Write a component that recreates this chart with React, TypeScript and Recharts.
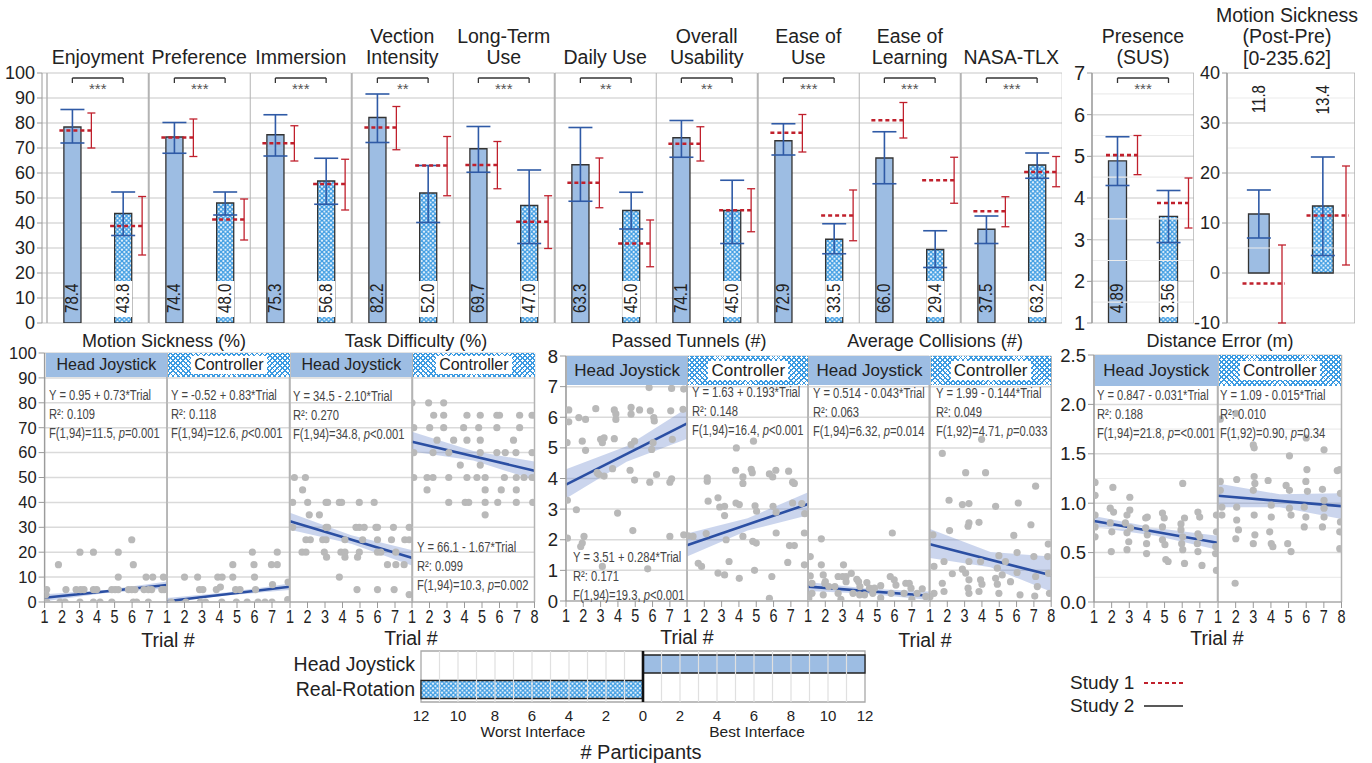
import React from 'react';
import {
  ComposedChart,
  BarChart,
  Bar,
  XAxis,
  YAxis,
  CartesianGrid,
  ErrorBar,
  Scatter,
  Area,
  ReferenceLine,
  ReferenceArea,
  LabelList,
  Cell,
} from 'recharts';

// ---------- top row: questionnaire scores (bars = Study 2, red = Study 1) ----------
const questionnaire = ['Enjoyment', 'Preference', 'Immersion', 'Vection\nIntensity', 'Long-Term\nUse', 'Daily Use', 'Overall\nUsability', 'Ease of\nUse', 'Ease of\nLearning', 'NASA-TLX'];
const questionnaireSig = ['***', '***', '***', '**', '***', '**', '**', '***', '***', '***'];
const headStudy2 = [78.4, 74.4, 75.3, 82.2, 69.7, 63.3, 74.1, 72.9, 66.0, 37.5];
const headStudy2Ci = [[72.0, 85.4], [67.9, 80.2], [66.8, 83.3], [72.2, 91.6], [60.3, 78.6], [48.7, 78.2], [66.3, 81.0], [67.2, 79.7], [55.7, 76.5], [31.8, 42.8]];
const ctrlStudy2 = [43.8, 48.0, 56.8, 52.0, 47.0, 45.0, 45.0, 33.5, 29.4, 63.2];
const ctrlStudy2Ci = [[35.0, 52.4], [43.2, 52.4], [47.5, 65.9], [40.2, 63.0], [31.8, 61.2], [37.6, 52.3], [31.8, 57.1], [27.7, 39.7], [22.2, 36.9], [57.9, 68.0]];
const headStudy1 = [77.0, 74.2, 71.9, 78.2, 63.2, 56.1, 71.7, 76.1, 81.1, 44.7];
const headStudy1Ci = [[70.0, 84.0], [66.6, 81.6], [64.8, 78.9], [69.3, 86.6], [53.7, 72.6], [46.1, 66.0], [64.8, 78.5], [68.4, 83.4], [74.0, 88.2], [38.5, 50.5]];
const ctrlStudy1 = [38.8, 41.4, 55.6, 63.0, 40.5, 31.8, 45.1, 43.0, 57.1, 60.4];
const ctrlStudy1Ci = [[27.2, 50.6], [33.2, 49.6], [45.2, 65.5], [50.9, 74.6], [29.8, 50.9], [22.5, 41.2], [36.5, 53.7], [32.9, 53.2], [47.9, 66.3], [54.5, 66.6]];

const presenceStudy2 = [4.89, 3.56];
const presenceStudy2Ci = [[4.30, 5.47], [2.93, 4.18]];
const presenceStudy1 = [5.03, 3.88];
const presenceStudy1Ci = [[4.56, 5.50], [3.28, 4.48]];

const sicknessStudy2 = [11.8, 13.4];
const sicknessStudy2Ci = [[7.0, 16.6], [3.5, 23.2]];
const sicknessStudy1 = [-2.1, 11.5];
const sicknessStudy1Ci = [[-10, 5.6], [1.6, 21.4]];

// ---------- middle row: per-trial measures ----------
const trialTicks7 = [1, 2, 3, 4, 5, 6, 7];
const trialTicks8 = [1, 2, 3, 4, 5, 6, 7, 8];
const bandTrials = [1, 4.5, 8];

const msHeadDots = [[1.12, 5], [1.79, 15], [3.02, 20], [3.79, 20], [5.21, 20], [5.98, 25], [6.07, 15], [5.21, 10], [6.8, 10], [7.18, 10], [7.79, 10], [2.22, 5], [2.8, 5], [3.06, 5], [3.25, 5], [3.79, 5], [3.98, 5], [4.84, 5], [5.03, 5], [5.21, 5], [5.79, 5], [5.98, 5], [6.17, 5], [6.68, 5], [6.93, 5], [7.12, 5], [7.7, 5], [7.83, 5], [1.08, 3], [1.12, 0], [1.88, 0], [2.17, 0], [3.02, 0], [3.79, 0], [4.17, 0], [4.84, 0], [6.07, 0], [6.26, 0], [6.93, 0]];
const msCtrlDots = [[2.0, 10], [2.75, 10], [2.86, 5], [3.05, 5], [3.9, 10], [4.15, 10], [3.82, 5], [4.05, 6], [4.76, 15], [4.76, 10], [4.92, 5], [5.17, 5], [5.88, 20], [5.97, 15], [6.0, 10], [6.06, 5], [6.97, 15], [7.3, 15], [7.3, 20], [7.03, 7], [7.92, 8], [7.9, 1], [1.25, 0], [2.08, 0], [2.9, 0], [3.2, 0], [4.13, 0], [4.96, 0], [5.58, 0], [6.2, 0], [6.6, 0], [7.0, 0]];
const tdHeadDots = [[1.25, 50], [1.88, 50], [1.72, 45], [1.15, 40], [2.01, 40], [3.06, 40], [3.15, 40], [3.82, 40], [3.95, 40], [4.96, 40], [5.81, 40], [2.1, 35], [2.68, 35], [1.15, 30], [3.06, 30], [3.15, 30], [4.77, 30], [4.96, 30], [5.24, 30], [5.91, 30], [6.0, 30], [6.91, 30], [7.81, 30], [1.91, 25], [2.16, 25], [2.87, 25], [3.06, 25], [4.14, 25], [5.15, 25], [6.0, 25], [6.8, 25], [7.56, 25], [7.81, 25], [1.69, 20], [1.91, 20], [2.96, 20], [3.91, 20], [4.14, 20], [4.96, 20], [6.0, 20], [6.19, 20], [7.05, 20], [3.09, 18], [4.14, 18], [4.86, 18], [6.57, 15], [7.05, 15], [7.52, 15], [3.82, 10], [4.83, 5], [6.0, 5], [6.95, 5], [7.81, 3]];
const tdCtrlDots = [[1.0, 80], [1.95, 80], [2.81, 80], [2.24, 75], [2.81, 75], [4.14, 75], [4.9, 75], [5.85, 75], [6.0, 75], [7.15, 75], [7.86, 75], [1.1, 70], [2.01, 70], [2.81, 70], [3.95, 70], [4.81, 70], [5.85, 70], [7.15, 70], [2.43, 65], [3.38, 65], [4.14, 65], [4.9, 65], [6.8, 65], [1.1, 60], [2.2, 60], [3.1, 60], [4.9, 60], [5.85, 60], [6.33, 60], [6.94, 60], [7.86, 60], [3.76, 55], [4.9, 55], [1.1, 50], [1.86, 50], [2.2, 50], [3.1, 50], [4.14, 50], [4.71, 50], [5.18, 50], [6.28, 50], [6.96, 50], [7.4, 50], [7.86, 50], [1.86, 45], [5.18, 45], [6.1, 45], [6.96, 45], [3.1, 40], [4.04, 40], [4.24, 40], [5.18, 40], [5.9, 40], [6.96, 40], [7.9, 40], [5.18, 35]];
const ptHeadDots = [[1.06, 5.17], [1.16, 6.24], [1.16, 5.85], [1.74, 5.99], [2.13, 5.93], [2.72, 6.28], [3.79, 6.24], [3.88, 5.93], [3.88, 6.11], [4.76, 6.32], [4.76, 6.1], [5.25, 6.24], [5.87, 6.21], [6.07, 5.99], [6.1, 5.88], [7.05, 6.21], [7.1, 6.94], [5.8, 6.97], [7.8, 6.92], [7.76, 6.26], [1.94, 5.22], [3.0, 5.28], [3.2, 5.33], [3.1, 5.17], [3.79, 5.3], [4.76, 5.11], [4.96, 5.22], [6.03, 5.17], [5.95, 4.95], [7.14, 5.28], [2.13, 4.92], [2.8, 4.19], [2.9, 4.13], [3.2, 4.08], [3.69, 4.32], [4.7, 4.27], [4.96, 3.95], [5.84, 3.88], [6.23, 4.13], [7.1, 3.99], [7.0, 3.88], [1.08, 3.29], [1.6, 2.98], [3.98, 2.87], [4.86, 2.3], [7.8, 2.16], [7.0, 2.11], [2.04, 2.11], [1.94, 1.89], [1.85, 1.78], [1.08, 2.05], [3.1, 1.13], [5.72, 1.05]];
const ptCtrlDots = [[4.84, 5.22], [3.85, 5.0], [2.17, 4.02], [2.17, 3.91], [3.81, 4.27], [4.71, 4.3], [4.77, 4.19], [4.23, 4.05], [4.23, 3.84], [5.76, 4.15], [5.95, 4.05], [6.13, 4.27], [6.87, 4.24], [7.1, 3.88], [7.2, 3.84], [2.22, 3.26], [2.89, 3.07], [3.17, 3.09], [2.79, 3.37], [3.83, 3.2], [4.02, 3.15], [3.17, 2.79], [4.93, 3.11], [5.02, 2.93], [5.97, 3.09], [6.15, 2.9], [7.1, 3.2], [7.63, 3.18], [7.8, 2.85], [1.06, 2.13], [1.35, 2.11], [2.11, 2.2], [3.26, 2.0], [4.23, 2.11], [4.8, 1.95], [5.0, 1.89], [6.15, 2.22], [6.92, 1.81], [7.2, 1.81], [7.78, 2.22], [1.65, 1.23], [1.84, 1.13], [3.43, 1.29], [2.79, 0.91], [3.17, 0.85], [6.82, 1.26], [7.78, 1.18], [4.02, 0.74], [5.76, 0.09], [4.9, 1.0], [5.9, 0.8]];
const acHeadDots = [[1.13, 1.45], [1.77, 2.03], [1.77, 1.18], [3.05, 1.18], [5.87, 2.22], [1.13, 0.82], [1.23, 0.58], [1.88, 0.85], [1.97, 0.58], [2.74, 0.8], [3.0, 0.8], [3.2, 0.8], [2.0, 0.63], [2.2, 0.47], [2.55, 0.47], [2.74, 0.25], [3.2, 0.63], [3.82, 0.71], [3.92, 0.63], [4.0, 0.47], [4.55, 0.42], [4.84, 0.42], [4.74, 0.25], [5.75, 0.8], [5.98, 0.69], [6.08, 0.52], [6.65, 0.58], [6.85, 0.58], [6.95, 0.42], [5.8, 0.25], [6.55, 0.25], [7.3, 0.25], [7.6, 0.4], [1.23, 0.25], [1.88, 0.2], [3.6, 0.25], [3.98, 0.2], [4.27, 0.2], [1.05, 0.1], [2.9, 0.05], [5.2, 0.1], [7.0, 0.05], [7.8, 0.15], [5.2, 0.5], [4.4, 0.6], [3.5, 0.9]];
const acCtrlDots = [[3.98, 5.28], [1.71, 4.82], [3.06, 4.19], [4.21, 4.19], [7.1, 3.75], [2.1, 3.29], [2.87, 3.15], [3.25, 3.18], [4.79, 3.09], [6.1, 3.2], [3.25, 2.55], [3.2, 2.44], [3.83, 2.57], [2.13, 2.3], [6.83, 2.49], [1.17, 2.16], [5.84, 2.14], [7.83, 1.86], [1.23, 1.13], [1.81, 1.29], [2.87, 1.04], [3.25, 1.29], [3.92, 1.29], [4.98, 1.48], [4.89, 1.07], [6.03, 1.58], [7.0, 1.45], [7.8, 1.45], [2.29, 0.89], [3.06, 0.91], [3.25, 0.69], [3.92, 0.69], [4.0, 0.55], [4.79, 0.74], [4.89, 0.55], [5.17, 0.85], [5.65, 0.63], [6.03, 0.93], [7.1, 0.8], [7.2, 0.47], [1.71, 0.58], [1.81, 0.31], [1.23, 0.25], [1.0, 0.14], [3.2, 0.42], [3.25, 0.25], [3.83, 0.31], [4.98, 0.25], [6.2, 0.2], [7.05, 0.16], [7.9, 0.25], [7.85, 0.9], [5.36, 1.29]];
const deHeadDots = [[1.06, 1.21], [1.06, 1.08], [2.07, 1.16], [3.03, 1.06], [6.03, 1.2], [1.06, 0.88], [1.06, 0.76], [1.06, 0.66], [1.92, 0.95], [2.11, 0.91], [1.92, 0.8], [2.01, 0.71], [1.98, 0.51], [2.87, 0.88], [3.03, 0.93], [2.78, 0.8], [3.07, 0.75], [2.87, 0.7], [2.97, 0.61], [2.87, 0.53], [3.93, 0.85], [4.02, 0.86], [3.93, 0.75], [4.02, 0.68], [3.98, 0.59], [3.98, 0.49], [4.88, 0.9], [4.98, 0.85], [4.88, 0.76], [4.88, 0.63], [5.02, 0.58], [5.07, 0.43], [5.2, 0.41], [5.93, 0.79], [6.13, 0.85], [5.93, 0.73], [6.03, 0.66], [5.97, 0.59], [6.03, 0.53], [6.13, 0.39], [6.89, 0.91], [6.99, 0.86], [6.89, 0.69], [6.99, 0.66], [6.86, 0.59], [6.89, 0.51], [7.12, 0.37], [7.94, 0.88], [7.94, 0.71], [7.9, 0.56], [7.89, 0.49], [7.94, 0.32]];
const deCtrlDots = [[1.13, 1.85], [2.1, 2.28], [2.01, 1.91], [3.0, 1.59], [3.05, 1.56], [5.05, 1.48], [7.01, 1.54], [6.04, 1.34], [7.76, 1.33], [6.0, 1.66], [1.13, 1.22], [1.13, 1.13], [2.06, 1.24], [3.05, 1.27], [3.09, 1.2], [3.0, 1.13], [3.84, 1.23], [4.86, 1.18], [5.05, 1.13], [5.98, 1.22], [6.07, 1.12], [6.92, 1.14], [7.9, 1.34], [1.22, 0.88], [1.22, 0.96], [2.06, 0.96], [2.06, 0.83], [2.16, 0.73], [2.01, 0.64], [3.05, 0.88], [3.09, 0.68], [3.0, 0.59], [4.02, 0.98], [4.02, 0.86], [3.93, 0.71], [4.02, 0.59], [4.11, 0.56], [5.05, 0.95], [5.14, 0.88], [4.95, 0.59], [5.14, 0.51], [5.89, 0.96], [5.98, 0.86], [5.89, 0.76], [7.01, 1.03], [7.01, 0.95], [7.01, 0.86], [6.92, 0.76], [7.94, 1.1], [7.94, 0.81], [7.9, 0.71], [7.9, 0.54], [1.97, 0.19]];

// fitted line at trial 1 and trial 8, confidence band at bandTrials
const msHeadFit = [1.7, 6.8];
const msCtrlFit = [0.3, 6.1];
const tdHeadFit = [32.4, 17.7];
const tdCtrlFit = [64.4, 52.7];
const ptHeadFit = [3.8, 5.8];
const ptCtrlFit = [1.82, 3.17];
const acHeadFit = [0.47, 0.17];
const acCtrlFit = [1.85, 0.84];
const deHeadFit = [0.82, 0.6];
const deCtrlFit = [1.075, 0.97];

const msHeadBand = [[0.3, 3.1], [3.6, 4.8], [5.4, 8.2]];
const msCtrlBand = [[0, 1.6], [2.7, 3.9], [4.8, 7.4]];
const tdHeadBand = [[29, 35.8], [23.4, 26.8], [14.6, 20.8]];
const tdCtrlBand = [[60.4, 68.4], [56.8, 60.6], [49, 56.4]];
const ptHeadBand = [[3.35, 4.3], [4.55, 5.05], [5.3, 6.3]];
const ptCtrlBand = [[1.45, 2.2], [2.3, 2.7], [2.8, 3.55]];
const acHeadBand = [[0.33, 0.62], [0.24, 0.4], [0.03, 0.31]];
const acCtrlBand = [[1.4, 2.35], [1.1, 1.6], [0.3, 1.45]];
const deHeadBand = [[0.76, 0.87], [0.67, 0.75], [0.53, 0.67]];
const deCtrlBand = [[0.96, 1.2], [0.96, 1.09], [0.84, 1.1]];

const msHeadStats = ['Y = 0.95 + 0.73*Trial', 'R²: 0.109', 'F(1,94)=11.5, ', '=0.001'];
const msCtrlStats = ['Y = -0.52 + 0.83*Trial', 'R²: 0.118', 'F(1,94)=12.6, ', '<0.001'];
const tdHeadStats = ['Y = 34.5 - 2.10*Trial', 'R²: 0.270', 'F(1,94)=34.8, ', '<0.001'];
const tdCtrlStats = ['Y = 66.1 - 1.67*Trial', 'R²: 0.099', 'F(1,94)=10.3, ', '=0.002'];
const ptHeadStats = ['Y = 3.51 + 0.284*Trial', 'R²: 0.171', 'F(1,94)=19.3, ', '<0.001'];
const ptCtrlStats = ['Y = 1.63 + 0.193*Trial', 'R²: 0.148', 'F(1,94)=16.4, ', '<0.001'];
const acHeadStats = ['Y = 0.514 - 0.043*Trial', 'R²: 0.063', 'F(1,94)=6.32, ', '=0.014'];
const acCtrlStats = ['Y = 1.99 - 0.144*Trial', 'R²: 0.049', 'F(1,92)=4.71, ', '=0.033'];
const deHeadStats = ['Y = 0.847 - 0.031*Trial', 'R²: 0.188', 'F(1,94)=21.8, ', '=<0.001'];
const deCtrlStats = ['Y = 1.09 - 0.015*Trial', 'R²: 0.010', 'F(1,92)=0.90, ', '=0.34'];

// ---------- bottom: best / worst interface votes ----------
const voteInterfaces = ['Head Joystick', 'Real-Rotation'];
const voteBest = [12, 0];
const voteWorst = [0, 12];
const voteTicks = [-12, -10, -8, -6, -4, -2, 0, 2, 4, 6, 8, 10, 12];
const voteGrid = [-11, -10, -9, -8, -7, -6, -5, -4, -3, -2, -1, 1, 2, 3, 4, 5, 6, 7, 8, 9, 10, 11];

// ---------- style ----------
const INK = '#222';
const SOLID = '#9dbde3';
const HATCH = '#3c9be2';
const BLUE = '#2f5aa6';
const RED = '#c0202c';
const GRID = '#dadada';
const FRAME = '#b3b3b3';
const FIT = '#2b4fa3';
const BAND = 'rgba(96,128,200,0.33)';
const DOT = '#b9b9b9';
const SANS = "'Liberation Sans', Arial, sans-serif";
const hatchCss = `repeating-linear-gradient(45deg, ${HATCH} 0 1.3px, transparent 1.3px 3.6px), repeating-linear-gradient(-45deg, ${HATCH} 0 1.3px, transparent 1.3px 3.6px)`;

const TOP_Y = 63; // chart box top, plot starts 10px lower
const TOP_H = 250;
const SIDE = 8; // spare room so edge tick labels are not clipped

function valueLabel(digits: number, atTop: boolean) {
  return (p: any) => {
    const x = Number(p.x), y = Number(p.y), w = Number(p.width), h = Number(p.height);
    const cx = x + w / 2;
    const txt = Number(p.value).toFixed(digits);
    if (atTop) {
      return (
        <text transform={`translate(${cx},22) rotate(-90) scale(0.84,1)`} textAnchor="end" dominantBaseline="central" fontSize={18} fontFamily={SANS} fill={INK}>
          {txt}
        </text>
      );
    }
    const base = y + h - 10;
    return (
      <g>
        {p.index === 1 && <rect x={cx - 9} y={base - 32} width={18} height={36} fill="#fff" />}
        <text transform={`translate(${cx},${base}) rotate(-90) scale(0.84,1)`} textAnchor="start" dominantBaseline="central" fontSize={18} fontFamily={SANS} fill={INK}>
          {txt}
        </text>
      </g>
    );
  };
}

function NarrowTick(p: any) {
  return (
    <g transform={`translate(${p.x},${p.y})`}>
      <text transform="scale(0.78,1)" textAnchor="middle" dy="0.78em" fontSize={18.5} fontFamily={SANS} fill={INK}>
        {p.payload.value}
      </text>
    </g>
  );
}

type BarPanelProps = {
  left: number;
  width: number;
  means: number[];
  cis: number[][];
  s1: number[];
  s1ci: number[][];
  domain: [number, number];
  ticks: number[];
  minor?: number[];
  axisW?: number;
  pad?: number;
  sig?: string;
  barW: number;
  redOff: number;
  digits: number;
  labelTop?: boolean;
  tickFont?: number;
};

function BarPanel({ left, width, means, cis, s1, s1ci, domain, ticks, minor = [], axisW = 0, pad = 0, sig, barW, redOff, digits, labelTop = false, tickFont = 18 }: BarPanelProps) {
  const bars = means.map((m, i) => ({ x: i + 0.5, v: m, err: [m - cis[i][0], cis[i][1] - m] }));
  const shift = (redOff * 2) / width;
  const red = s1.map((m, i) => ({ x: i + 0.5 + shift, v: m, err: [m - s1ci[i][0], s1ci[i][1] - m] }));
  const span = domain[1] - domain[0];
  const yA = domain[1] - 0.02 * span;
  const yB = domain[1] - 0.04 * span;
  const back = redOff + barW / 2;

  return (
    <div style={{ position: 'absolute', left: left - axisW - pad, top: TOP_Y }}>
      <ComposedChart width={axisW + pad + width} height={TOP_H + 20} data={bars} margin={{ top: 10, right: 0, bottom: 10, left: 0 }}>
        <CartesianGrid vertical={false} stroke={GRID} strokeWidth={1.5} />
        {minor.map((m) => (
          <ReferenceLine key={`m${m}`} y={m} stroke="#ececec" strokeWidth={1.2} />
        ))}
        <XAxis type="number" dataKey="x" domain={[0, 2]} hide padding={{ left: pad, right: 0 }} allowDataOverflow />
        <YAxis
          type="number"
          domain={domain}
          ticks={ticks}
          allowDataOverflow
          hide={!axisW}
          width={axisW}
          interval={0}
          tickSize={5}
          tickMargin={2}
          stroke="#9a9a9a"
          tick={{ fill: INK, fontSize: tickFont, fontFamily: SANS }}
        />
        <ReferenceLine x={0} stroke={FRAME} strokeWidth={1.5} />
        <ReferenceLine x={2} stroke={FRAME} strokeWidth={1.5} />
        <Bar dataKey="v" barSize={barW} stroke="#333" strokeWidth={1.3} isAnimationActive={false}>
          {bars.map((b, i) => (
            <Cell key={i} fill={i === 1 ? 'url(#hatch)' : SOLID} />
          ))}
          <ErrorBar dataKey="err" width={12} stroke={BLUE} strokeWidth={1.6} />
          <LabelList dataKey="v" content={valueLabel(digits, labelTop)} />
        </Bar>
        <Scatter
          data={red}
          dataKey="v"
          isAnimationActive={false}
          shape={(p: any) => (
            <line x1={p.cx - back} x2={p.cx + 3} y1={p.cy} y2={p.cy} stroke={RED} strokeWidth={2.6} strokeDasharray="4 3" />
          )}
        >
          <ErrorBar dataKey="err" direction="y" width={4} stroke={RED} strokeWidth={1.3} />
        </Scatter>
        {sig
          ? [
              <ReferenceLine
                key="s0"
                segment={[{ x: 0.5, y: yA }, { x: 1.5, y: yA }]}
                stroke="#333"
                strokeWidth={1.3}
                label={{ value: sig, position: 'bottom', offset: 5, fill: '#555', fontSize: 15, fontFamily: SANS }}
              />,
              <ReferenceLine key="s1" segment={[{ x: 0.5, y: yA }, { x: 0.5, y: yB }]} stroke="#333" strokeWidth={1.3} />,
              <ReferenceLine key="s2" segment={[{ x: 1.5, y: yA }, { x: 1.5, y: yB }]} stroke="#333" strokeWidth={1.3} />,
            ]
          : null}
      </ComposedChart>
    </div>
  );
}

type Group = {
  plotTop: number;
  plotH: number;
  left0: number;
  panelW: number;
  domain: [number, number];
  ticks: number[];
  minor: number[];
  hdrH: number;
  hdrFont: number;
  axisW: number;
  tickFont: number;
  fmt: (v: number) => string;
};

const groupA: Group = { plotTop: 353, plotH: 249, left0: 44.6, panelW: 122.5, domain: [0, 100], ticks: [0, 10, 20, 30, 40, 50, 60, 70, 80, 90, 100], minor: [], hdrH: 24, hdrFont: 16, axisW: 44.6, tickFont: 16.5, fmt: (v) => String(v) };
const groupB: Group = { plotTop: 356, plotH: 245, left0: 566, panelW: 121.2, domain: [0, 8], ticks: [0, 1, 2, 3, 4, 5, 6, 7, 8], minor: [], hdrH: 29, hdrFont: 17, axisW: 36, tickFont: 18.5, fmt: (v) => String(v) };
const groupC: Group = { plotTop: 355, plotH: 247, left0: 1094, panelW: 123.5, domain: [0, 2.5], ticks: [0, 0.5, 1, 1.5, 2, 2.5], minor: [0.25, 0.75, 1.25, 1.75, 2.25], hdrH: 31, hdrFont: 17, axisW: 40, tickFont: 18.5, fmt: (v) => v.toFixed(1) };

type Facet = {
  g: Group;
  idx: number;
  last: boolean;
  header: string;
  dots: number[][];
  fit: number[];
  band: number[][];
  stats: string[];
  statX: number;
  statY: number;
};

const facets: Facet[] = [
  { g: groupA, idx: 0, last: false, header: 'Head Joystick', dots: msHeadDots, fit: msHeadFit, band: msHeadBand, stats: msHeadStats, statX: 49, statY: 399 },
  { g: groupA, idx: 1, last: false, header: 'Controller', dots: msCtrlDots, fit: msCtrlFit, band: msCtrlBand, stats: msCtrlStats, statX: 171, statY: 399 },
  { g: groupA, idx: 2, last: false, header: 'Head Joystick', dots: tdHeadDots, fit: tdHeadFit, band: tdHeadBand, stats: tdHeadStats, statX: 293, statY: 400 },
  { g: groupA, idx: 3, last: true, header: 'Controller', dots: tdCtrlDots, fit: tdCtrlFit, band: tdCtrlBand, stats: tdCtrlStats, statX: 417, statY: 551 },
  { g: groupB, idx: 0, last: false, header: 'Head Joystick', dots: ptHeadDots, fit: ptHeadFit, band: ptHeadBand, stats: ptHeadStats, statX: 573, statY: 561 },
  { g: groupB, idx: 1, last: false, header: 'Controller', dots: ptCtrlDots, fit: ptCtrlFit, band: ptCtrlBand, stats: ptCtrlStats, statX: 692, statY: 396 },
  { g: groupB, idx: 2, last: false, header: 'Head Joystick', dots: acHeadDots, fit: acHeadFit, band: acHeadBand, stats: acHeadStats, statX: 813, statY: 397 },
  { g: groupB, idx: 3, last: true, header: 'Controller', dots: acCtrlDots, fit: acCtrlFit, band: acCtrlBand, stats: acCtrlStats, statX: 936, statY: 397 },
  { g: groupC, idx: 0, last: false, header: 'Head Joystick', dots: deHeadDots, fit: deHeadFit, band: deHeadBand, stats: deHeadStats, statX: 1097, statY: 399 },
  { g: groupC, idx: 1, last: true, header: 'Controller', dots: deCtrlDots, fit: deCtrlFit, band: deCtrlBand, stats: deCtrlStats, statX: 1220, statY: 399 },
];

function TrialPanel({ f }: { f: Facet }) {
  const { g, idx } = f;
  const axisW = idx === 0 ? g.axisW : 0;
  const left = g.left0 + idx * g.panelW;
  const bandData = bandTrials.map((t, i) => ({ t, band: f.band[i] }));
  const pts = f.dots.map(([t, v]) => ({ t, v }));
  const padL = idx === 0 ? 0 : SIDE;
  return (
    <div style={{ position: 'absolute', left: left - axisW - padL, top: g.plotTop - 10 }}>
      <ComposedChart width={axisW + padL + g.panelW + SIDE} height={g.plotH + 10 + 32} data={bandData} margin={{ top: 10, right: SIDE, bottom: 0, left: padL }}>
        <CartesianGrid vertical={false} stroke={GRID} strokeWidth={1.5} />
        {g.minor.map((m) => (
          <ReferenceLine key={`m${m}`} y={m} stroke="#ececec" strokeWidth={1.2} />
        ))}
        <XAxis
          type="number"
          dataKey="t"
          domain={[1, 8]}
          ticks={f.last ? trialTicks8 : trialTicks7}
          interval={0}
          height={32}
          tickSize={6}
          tickMargin={1}
          stroke="#9a9a9a"
          allowDataOverflow
          tick={<NarrowTick />}
        />
        <YAxis
          type="number"
          domain={g.domain}
          ticks={g.ticks}
          interval={0}
          allowDataOverflow
          hide={!axisW}
          width={axisW}
          tickSize={6}
          tickMargin={2}
          stroke="#9a9a9a"
          tickFormatter={g.fmt}
          tick={{ fill: INK, fontSize: g.tickFont, fontFamily: SANS }}
        />
        <Scatter data={pts} dataKey="v" isAnimationActive={false} shape={(p: any) => <circle cx={p.cx} cy={p.cy} r={3.6} fill={DOT} />} />
        <Area dataKey="band" type="linear" fill={BAND} fillOpacity={1} stroke="none" isAnimationActive={false} dot={false} activeDot={false} />
        <ReferenceLine segment={[{ x: 1, y: f.fit[0] }, { x: 8, y: f.fit[1] }]} stroke={FIT} strokeWidth={2.6} />
        <ReferenceLine x={1} stroke={FRAME} strokeWidth={1.5} />
        <ReferenceLine x={8} stroke={FRAME} strokeWidth={1.5} />
      </ComposedChart>
    </div>
  );
}

function Header({ f }: { f: Facet }) {
  const { g, idx } = f;
  const hatch = f.header === 'Controller';
  return (
    <div
      style={{
        position: 'absolute',
        left: g.left0 + idx * g.panelW + 1,
        top: g.plotTop,
        width: g.panelW - 1,
        height: g.hdrH,
        backgroundColor: hatch ? '#fff' : SOLID,
        backgroundImage: hatch ? hatchCss : 'none',
        display: 'flex',
        alignItems: 'center',
        justifyContent: 'center',
        fontSize: g.hdrFont,
      }}
    >
      <span style={{ background: hatch ? '#fff' : 'transparent', padding: hatch ? '0 3px' : 0, lineHeight: `${g.hdrFont + 2}px` }}>{f.header}</span>
    </div>
  );
}

function Stats({ f }: { f: Facet }) {
  const style: React.CSSProperties = {
    position: 'absolute',
    left: f.statX,
    fontSize: 14,
    color: '#454545',
    whiteSpace: 'pre',
    lineHeight: '14px',
    transform: 'scaleX(0.8)',
    transformOrigin: '0 0',
  };
  return (
    <>
      <div style={{ ...style, top: f.statY - 11 }}>{f.stats[0]}</div>
      <div style={{ ...style, top: f.statY - 11 + 19 }}>{f.stats[1]}</div>
      <div style={{ ...style, top: f.statY - 11 + 38 }}>
        {f.stats[2]}
        <i>p</i>
        {f.stats[3]}
      </div>
    </>
  );
}

function Title({ text, cx, bottom, size = 19.5, lh = 21 }: { text: string; cx: number; bottom: number; size?: number; lh?: number }) {
  const lines = text.split('\n').length;
  return (
    <div
      style={{
        position: 'absolute',
        left: cx,
        top: bottom - lines * lh,
        transform: 'translateX(-50%)',
        whiteSpace: 'pre',
        textAlign: 'center',
        fontSize: size,
        lineHeight: `${lh}px`,
      }}
    >
      {text}
    </div>
  );
}

const TOP_LEFT = 47;
const TOP_W = 101.5;

export default function App() {
  const voteRows = voteInterfaces.map((name, i) => ({ name, best: voteBest[i], worst: -voteWorst[i] }));
  const abs = (v: number) => String(Math.abs(v));

  return (
    <div style={{ position: 'absolute', left: 0, top: 0, width: 1372, height: 763, background: '#fff', fontFamily: SANS, color: INK, overflow: 'hidden' }}>
      <svg width={0} height={0} style={{ position: 'absolute' }}>
        <defs>
          <pattern id="hatch" width={4.5} height={4.5} patternUnits="userSpaceOnUse">
            <rect width={4.5} height={4.5} fill="#fff" />
            <path d="M0,0L4.5,4.5M4.5,0L0,4.5" stroke={HATCH} strokeWidth={1.4} />
          </pattern>
        </defs>
      </svg>

      {/* top row titles */}
      {questionnaire.map((q, i) => (
        <Title key={q} text={q} cx={TOP_LEFT + TOP_W * (i + 0.5)} bottom={68} />
      ))}
      <Title text={'Presence\n(SUS)'} cx={1143} bottom={68} />
      <Title text={'Motion Sickness\n(Post-Pre)\n[0-235.62]'} cx={1287} bottom={69} lh={21.5} />

      {/* top row bar panels */}
      {questionnaire.map((q, i) => (
        <BarPanel
          key={q}
          left={TOP_LEFT + TOP_W * i}
          width={TOP_W}
          means={[headStudy2[i], ctrlStudy2[i]]}
          cis={[headStudy2Ci[i], ctrlStudy2Ci[i]]}
          s1={[headStudy1[i], ctrlStudy1[i]]}
          s1ci={[headStudy1Ci[i], ctrlStudy1Ci[i]]}
          domain={[0, 100]}
          ticks={[0, 10, 20, 30, 40, 50, 60, 70, 80, 90, 100]}
          axisW={i === 0 ? 37 : 0}
          pad={i === 0 ? 5 : 0}
          sig={questionnaireSig[i]}
          barW={26}
          redOff={19}
          digits={1}
        />
      ))}
      <BarPanel
        left={1092}
        width={102}
        means={presenceStudy2}
        cis={presenceStudy2Ci}
        s1={presenceStudy1}
        s1ci={presenceStudy1Ci}
        domain={[1, 7]}
        ticks={[1, 2, 3, 4, 5, 6, 7]}
        minor={[1.5, 2.5, 3.5, 4.5, 5.5, 6.5]}
        axisW={30}
        sig="***"
        barW={23}
        redOff={20}
        digits={2}
        tickFont={20}
      />
      <BarPanel
        left={1227}
        width={128}
        means={sicknessStudy2}
        cis={sicknessStudy2Ci}
        s1={sicknessStudy1}
        s1ci={sicknessStudy1Ci}
        domain={[-10, 40]}
        ticks={[-10, 0, 10, 20, 30, 40]}
        minor={[-5, 5, 15, 25, 35]}
        axisW={34}
        barW={33}
        redOff={23}
        digits={1}
        labelTop
      />

      {/* middle row titles */}
      <Title text="Motion Sickness (%)" cx={164} bottom={352} size={18} />
      <Title text="Task Difficulty (%)" cx={416} bottom={352} size={18} />
      <Title text="Passed Tunnels (#)" cx={689} bottom={352} size={18} />
      <Title text="Average Collisions (#)" cx={935} bottom={352} size={18} />
      <Title text="Distance Error (m)" cx={1220} bottom={352} size={18} />

      {facets.map((f, i) => (
        <TrialPanel key={`p${i}`} f={f} />
      ))}
      {facets.map((f, i) => (
        <Header key={`h${i}`} f={f} />
      ))}
      {facets.map((f, i) => (
        <Stats key={`s${i}`} f={f} />
      ))}

      <Title text="Trial #" cx={168} bottom={649} size={19.5} lh={18} />
      <Title text="Trial #" cx={411} bottom={647} size={19.5} lh={18} />
      <Title text="Trial #" cx={687} bottom={646} size={19.5} lh={18} />
      <Title text="Trial #" cx={925} bottom={649} size={19.5} lh={18} />
      <Title text="Trial #" cx={1217} bottom={647} size={19.5} lh={18} />

      {/* bottom: best / worst interface */}
      <div style={{ position: 'absolute', left: 280, top: 641 }}>
        <BarChart layout="vertical" width={595} height={87} data={voteRows} margin={{ top: 10, right: 10, bottom: 0, left: 0 }} barSize={18} stackOffset="sign">
          {voteGrid.map((v) => (
            <ReferenceLine key={`g${v}`} x={v} stroke="#e0e0e0" strokeWidth={1.2} />
          ))}
          <ReferenceArea x1={-12} x2={12} fill="none" stroke="#a8a8a8" strokeWidth={1.3} />
          <XAxis
            type="number"
            domain={[-12, 12]}
            ticks={voteTicks}
            interval={0}
            tickFormatter={abs}
            tickLine={false}
            axisLine={false}
            tickMargin={2}
            height={26}
            tick={{ fill: INK, fontSize: 15, fontFamily: SANS }}
          />
          <YAxis
            type="category"
            dataKey="name"
            width={141}
            interval={0}
            tickLine={false}
            axisLine={false}
            tickSize={0}
            tickMargin={6}
            tick={{ fill: INK, fontSize: 19.5, fontFamily: SANS }}
          />
          <Bar dataKey="best" stackId="v" fill={SOLID} stroke="#222" strokeWidth={1.3} isAnimationActive={false} />
          <Bar dataKey="worst" stackId="v" fill="url(#hatch)" stroke="#222" strokeWidth={1.3} isAnimationActive={false} />
          <ReferenceLine x={0} stroke="#111" strokeWidth={2.6} />
        </BarChart>
      </div>
      <Title text="Worst Interface" cx={533} bottom={740} size={15.5} lh={16} />
      <Title text="Best Interface" cx={757} bottom={740} size={15.5} lh={16} />
      <Title text="# Participants" cx={641} bottom={763} size={20} lh={22} />

      {/* legend */}
      <div style={{ position: 'absolute', left: 1070, top: 671, fontSize: 19, lineHeight: '23px' }}>
        <div style={{ display: 'flex', alignItems: 'center' }}>
          <span style={{ width: 73 }}>Study 1</span>
          <svg width={42} height={10}>
            <line x1={1} x2={40} y1={5} y2={5} stroke={RED} strokeWidth={2} strokeDasharray="4 3" />
          </svg>
        </div>
        <div style={{ display: 'flex', alignItems: 'center' }}>
          <span style={{ width: 73 }}>Study 2</span>
          <svg width={42} height={10}>
            <line x1={1} x2={40} y1={5} y2={5} stroke="#222" strokeWidth={1.5} />
          </svg>
        </div>
      </div>
    </div>
  );
}
